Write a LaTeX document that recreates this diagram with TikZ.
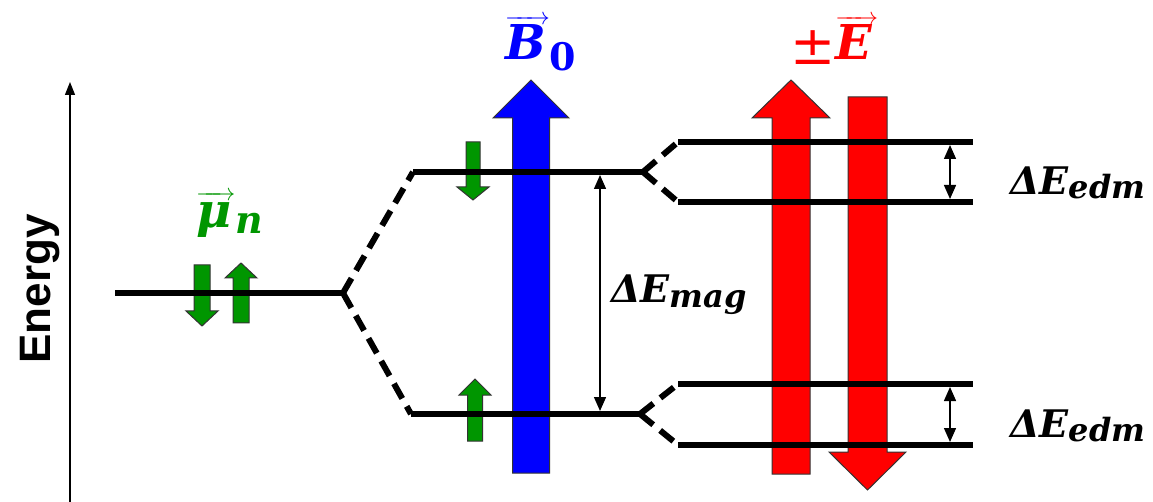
\RequirePackage{fix-cm}
\documentclass[tikz,border=0pt]{standalone}
\usepackage{amsmath,graphicx}
\usepackage{fontspec}
\newfontfamily\energyfont{Liberation Sans}
\newfontfamily\lblfont{DejaVu Serif}
\newcommand{\lbi}{\lblfont\bfseries\itshape}
\usetikzlibrary{arrows.meta}
\definecolor{nred}{RGB}{255,0,0}
\definecolor{nblue}{RGB}{0,0,255}
\definecolor{ngreen}{RGB}{0,150,0}
\newcommand{\upblk}[7]{%
  \draw[blk, fill=#7] (#1,#2) -- ({#1+#5},{#2+#6}) -- ({#1+#4},{#2+#6}) -- ({#1+#4},#3) -- ({#1-#4},#3) -- ({#1-#4},{#2+#6}) -- ({#1-#5},{#2+#6}) -- cycle;}
\newcommand{\downblk}[7]{%
  \draw[blk, fill=#7] (#1,#3) -- ({#1+#5},{#3-#6}) -- ({#1+#4},{#3-#6}) -- ({#1+#4},#2) -- ({#1-#4},#2) -- ({#1-#4},{#3-#6}) -- ({#1-#5},{#3-#6}) -- cycle;}
% arrow over a box: #1 gap, #2 extra width, #3 content
\newcommand{\vecover}[3]{\setbox0=\hbox{#3}\vbox{\offinterlineskip\hbox to \dimexpr\wd0+#2\relax{\fontsize{24}{24}\selectfont\rightarrowfill}\kern#1\box0}}
\tikzset{
  lvl/.style={line width=6pt},
  splitline/.style={line width=6pt, dash pattern=on 17pt off 9pt},
  gaparrow/.style={line width=1.4pt, {Triangle[width=12pt,length=14pt]}-{Triangle[width=12pt,length=14pt]}},
  blk/.style={draw=black!80, line width=1pt, line join=miter},
  lab/.style={inner sep=0pt, anchor=base west},
}
\begin{document}
\begin{tikzpicture}[x=1pt,y=-1pt]
\useasboundingbox (0,0) rectangle (1153,502);
% energy axis
\coordinate (ax0) at (70,502);
\coordinate (ax1) at (70,82);
\draw[line width=1.4pt, -{Triangle[width=10pt,length=13pt]}] (ax0) -- (ax1);
\node[rotate=90, anchor=base, inner sep=0pt] (energy) at (50,289) {\energyfont\bfseries\fontsize{44}{52}\selectfont Energy};
% block arrows
\upblk{531}{80}{473}{18.5}{38}{38}{nblue}
\upblk{791}{80}{474}{19}{39}{38}{nred}
\downblk{867.5}{97}{490}{19.5}{38.5}{38}{nred}
\downblk{202}{265}{326}{8}{16}{15}{ngreen}
\upblk{241}{263}{323}{8}{16}{15}{ngreen}
\downblk{473}{142}{200}{7}{16}{13}{ngreen}
\upblk{475}{379}{441}{7.5}{16}{16}{ngreen}
% levels
\coordinate (L0a) at (115,293);
\coordinate (L0b) at (343,293);
\coordinate (Ua) at (413,172);
\coordinate (Ub) at (643,172);
\coordinate (Da) at (411,414);
\coordinate (Db) at (640,414);
\coordinate (R1a) at (678,142);
\coordinate (R1b) at (973,142);
\coordinate (R2a) at (678,202);
\coordinate (R2b) at (973,202);
\coordinate (R3a) at (678,384);
\coordinate (R3b) at (973,384);
\coordinate (R4a) at (678,445);
\coordinate (R4b) at (973,445);
\draw[lvl] (L0a) -- (L0b);
\draw[lvl] (Ua) -- (Ub);
\draw[lvl] (Da) -- (Db);
\draw[lvl] (R1a) -- (R1b);
\draw[lvl] (R2a) -- (R2b);
\draw[lvl] (R3a) -- (R3b);
\draw[lvl] (R4a) -- (R4b);
\draw[splitline] (L0b) -- (Ua);
\draw[splitline] (L0b) -- (Da);
\draw[splitline] (Ub) -- (R1a);
\draw[splitline] (Ub) -- (R2a);
\draw[splitline] (Db) -- (R3a);
\draw[splitline] (Db) -- (R4a);
% gap arrows
\coordinate (gm1) at (600,175);
\coordinate (gm2) at (600,411);
\coordinate (ge1) at (950,145);
\coordinate (ge2) at (950,199);
\coordinate (ge3) at (950,387);
\coordinate (ge4) at (950,442);
\draw[gaparrow] (gm1) -- (gm2);
\draw[gaparrow] (ge1) -- (ge2);
\draw[gaparrow] (ge3) -- (ge4);
% labels
\node[lab, text=ngreen] (mu) at (196,228) {\vecover{3pt}{4pt}{\fontsize{48}{50}\selectfont\lbi μ}\raisebox{-6pt}{\fontsize{38}{40}\selectfont\lbi n}};
\node[lab, text=nblue] (b0) at (505,60) {\vecover{1pt}{4pt}{\fontsize{48}{50}\selectfont\lbi B}\raisebox{-11pt}{\fontsize{38}{40}\selectfont\lblfont\bfseries 0}};
\node[lab, text=nred] (pe) at (790,60) {\raisebox{-5pt}{\fontsize{54}{56}\selectfont\lblfont ±}\vecover{1pt}{6pt}{\fontsize{48}{50}\selectfont\lbi E}};
\node[lab] (dmag) at (611,303) {{\fontsize{38}{44}\selectfont\lbi ΔE}\raisebox{-5pt}{\fontsize{32}{36}\selectfont\lbi mag}};
\node[lab] (dedm1) at (1010,195) {{\fontsize{38}{44}\selectfont\lbi ΔE}\raisebox{-4pt}{\fontsize{32}{36}\selectfont\lbi edm}};
\node[lab] (dedm2) at (1010,437) {{\fontsize{38}{44}\selectfont\lbi ΔE}\raisebox{-4pt}{\fontsize{32}{36}\selectfont\lbi edm}};
\end{tikzpicture}
\end{document}
